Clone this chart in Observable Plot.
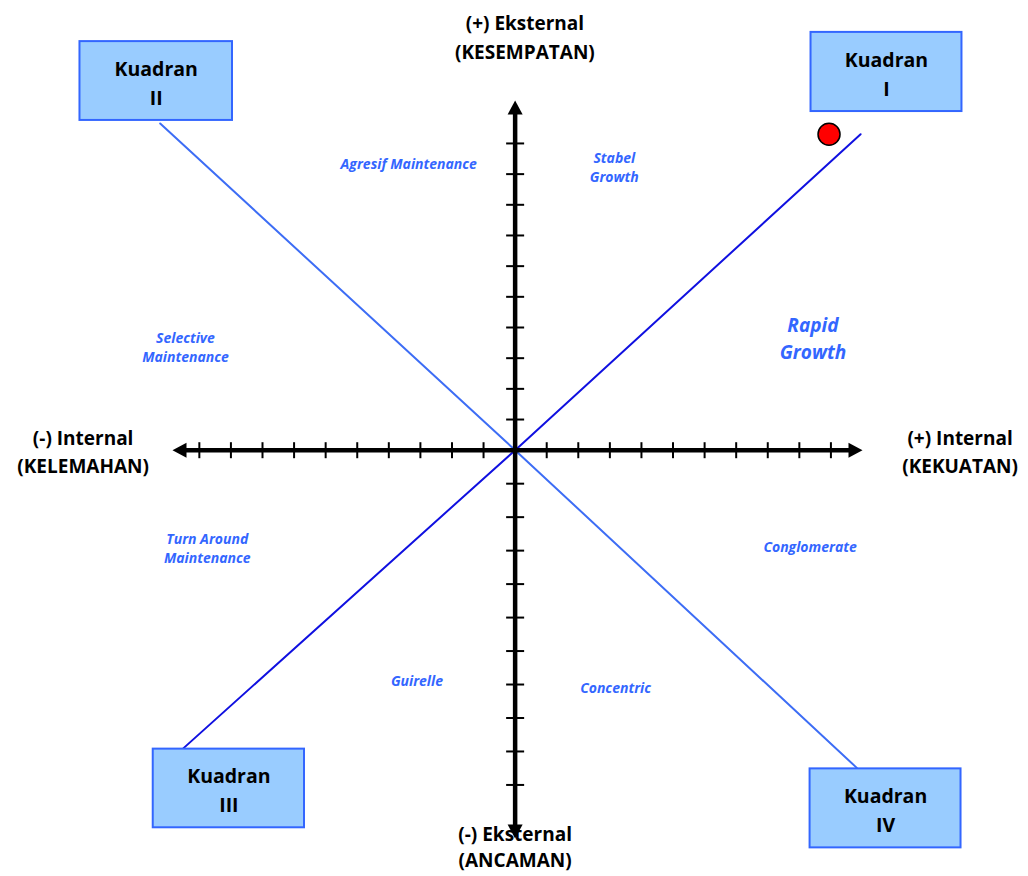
<!DOCTYPE html>
<html>
<head>
<meta charset="utf-8">
<script src="https://cdn.jsdelivr.net/npm/d3@7"></script>
<script src="https://cdn.jsdelivr.net/npm/@observablehq/plot@0.6"></script>
<style>
  html, body { margin: 0; padding: 0; background: #ffffff; }
  #chart { width: 1028px; height: 876px; }
</style>
</head>
<body>
<div id="chart"></div>
<script>
// ---- data (diagram units; origin = centre of the IFE/EFE matrix) ----
const xTicks = [-10, -9, -8, -7, -6, -5, -4, -3, -2, -1, 1, 2, 3, 4, 5, 6, 7, 8, 9, 10];
const yTicks = [-10, -9, -8, -7, -6, -5, -4, -3, -2, -1, 1, 2, 3, 4, 5, 6, 7, 8, 9, 10];
const xAxisEnds = [-10.85, 11];
const yAxisEnds = [-11.6, 11.4];

// diagonal quadrant lines
const diagIIIx = [-10.5, 0, 10.94];   // Kuadran III -> Kuadran I
const diagIIIy = [-8.9, 0, 10.3];
const diagIIx = [-11.24, 0, 10.82];   // Kuadran II -> Kuadran IV
const diagIIy = [10.65, 0, -9.49];

// company position
const posX = [9.94];
const posY = [10.3];

// quadrant boxes
const quadNames = ["Kuadran\nI", "Kuadran\nII", "Kuadran\nIII", "Kuadran\nIV"];
const boxX1 = [9.37, -13.78, -11.46, 9.34];
const boxX2 = [14.15, -8.95, -6.67, 14.12];
const boxY1 = [11.04, 10.75, -11.28, -11.88];
const boxY2 = [13.62, 13.32, -8.93, -9.52];

// axis titles
const axisTitles = ["(+) Eksternal\n(KESEMPATAN)", "(-) Internal\n(KELEMAHAN)", "(+) Internal\n(KEKUATAN)"];
const axisTitleX = [0.31, -13.68, 14.09];
const axisTitleY = [13.52, 0, 0];
const bottomTitle = ["(-) Eksternal\n(ANCAMAN)"];
const bottomTitleX = [0];
const bottomTitleY = [-11.82];

// strategy labels
const stratNames = ["Agresif Maintenance", "Stabel\nGrowth", "Selective\nMaintenance", "Turn Around\nMaintenance", "Conglomerate", "Guirelle", "Concentric"];
const stratX = [-3.37, 3.14, -10.44, -9.75, 9.34, -3.11, 3.18];
const stratY = [9.38, 9.25, 3.39, -2.90, -2.87, -6.87, -7.07];
const bigStrat = ["Rapid\nGrowth"];
const bigStratX = [9.43];
const bigStratY = [3.71];

// the lower half of the drawing is slightly stretched compared with the upper half
const lowerStretch = 33.5 / 30.7;
const wy = v => (v < 0 ? v * lowerStretch : v);

// ---- build tables ----
const diag1 = diagIIIx.map((x, i) => ({x, y: wy(diagIIIy[i])}));
const diag2 = diagIIx.map((x, i) => ({x, y: wy(diagIIy[i])}));
const boxes = quadNames.map((name, i) => ({name, x1: boxX1[i], x2: boxX2[i], y1: wy(boxY1[i]), y2: wy(boxY2[i]),
  cx: (boxX1[i] + boxX2[i]) / 2, cy: (wy(boxY1[i]) + wy(boxY2[i])) / 2}));
const titles = axisTitles.map((t, i) => ({t, x: axisTitleX[i], y: wy(axisTitleY[i])}));
const bottoms = bottomTitle.map((t, i) => ({t, x: bottomTitleX[i], y: wy(bottomTitleY[i])}));
const strats = stratNames.map((t, i) => ({t, x: stratX[i], y: wy(stratY[i])}));
const bigs = bigStrat.map((t, i) => ({t, x: bigStratX[i], y: wy(bigStratY[i])}));
const xTickRows = xTicks.map(v => ({x: v, y: 0}));
const yTickRows = yTicks.map(v => ({x: 0, y: wy(v)}));
const tips = [
  {x: xAxisEnds[0], y: 0, rot: 270},
  {x: xAxisEnds[1], y: 0, rot: 90},
  {x: 0, y: wy(yAxisEnds[0]), rot: 180},
  {x: 0, y: wy(yAxisEnds[1]), rot: 0}
];
const axisH = [{x1: xAxisEnds[0] + 0.3, x2: xAxisEnds[1] - 0.3, y: 0}];
const axisV = [{x: 0, y1: wy(yAxisEnds[0]) + 0.3, y2: wy(yAxisEnds[1]) - 0.3}];
const pos = posX.map((x, i) => ({x, y: wy(posY[i])}));

// symbols: filled arrowhead (tip at the origin, pointing up) and short tick bars
const arrowHead = {
  draw(ctx) {
    ctx.moveTo(0, 0);
    ctx.lineTo(7.5, 14);
    ctx.lineTo(-7.5, 14);
    ctx.closePath();
  }
};
const vBar = { draw(ctx) { ctx.moveTo(0, -8); ctx.lineTo(0, 8); } };
const hBar = { draw(ctx) { ctx.moveTo(-9, 0); ctx.lineTo(9, 0); } };

const font = "'Open Sans', Lato, sans-serif";
const blue = "#3366ff";

const chart = Plot.plot({
  width: 1028,
  height: 876,
  margin: 0,
  style: {fontFamily: font, background: "#ffffff"},
  x: {type: "linear", domain: [xAxisEnds[0], xAxisEnds[1]], range: [172, 862], axis: null},
  y: {type: "linear", domain: [wy(yAxisEnds[0]), wy(yAxisEnds[1])], range: [838, 100], axis: null},
  marks: [
    // diagonals
    Plot.line(diag2, {x: "x", y: "y", stroke: "#3d6df5", strokeWidth: 2}),
    Plot.line(diag1, {x: "x", y: "y", stroke: "#1010e0", strokeWidth: 2}),
    // axes
    Plot.link(axisH, {x1: "x1", x2: "x2", y1: "y", y2: "y", stroke: "#000", strokeWidth: 4.5}),
    Plot.link(axisV, {x1: "x", x2: "x", y1: "y1", y2: "y2", stroke: "#000", strokeWidth: 4.5}),
    Plot.dot(xTickRows, {x: "x", y: "y", symbol: vBar, r: 8, fill: "none", stroke: "#000", strokeWidth: 2}),
    Plot.dot(yTickRows, {x: "x", y: "y", symbol: hBar, r: 8, fill: "none", stroke: "#000", strokeWidth: 2}),
    Plot.dot(tips, {x: "x", y: "y", rotate: "rot", symbol: arrowHead, r: 8, fill: "#000", stroke: "none"}),
    // quadrant boxes
    Plot.rect(boxes, {x1: "x1", x2: "x2", y1: "y1", y2: "y2", fill: "#99ccff", stroke: "#3366ff", strokeWidth: 2}),
    Plot.text(boxes, {x: "cx", y: "cy", text: "name", fontSize: 19.5, fontWeight: "bold", fill: "#000", lineHeight: 1.5}),
    // axis titles
    Plot.text(titles, {x: "x", y: "y", text: "t", fontSize: 19, fontWeight: "bold", fill: "#000", lineHeight: 1.48}),
    Plot.text(bottoms, {x: "x", y: "y", text: "t", fontSize: 19, fontWeight: "bold", fill: "#000", lineHeight: 1.36}),
    // strategy labels
    Plot.text(strats, {x: "x", y: "y", text: "t", fontSize: 14, fontWeight: "bold", fontStyle: "italic", fill: blue, lineHeight: 1.36}),
    Plot.text(bigs, {x: "x", y: "y", text: "t", fontSize: 19, fontWeight: "bold", fontStyle: "italic", fill: blue, lineHeight: 1.42}),
    // position marker
    Plot.dot(pos, {x: "x", y: "y", r: 11, fill: "#ff0000", stroke: "#000", strokeWidth: 1.5})
  ]
});
document.getElementById("chart").appendChild(chart);
</script>
</body>
</html>
